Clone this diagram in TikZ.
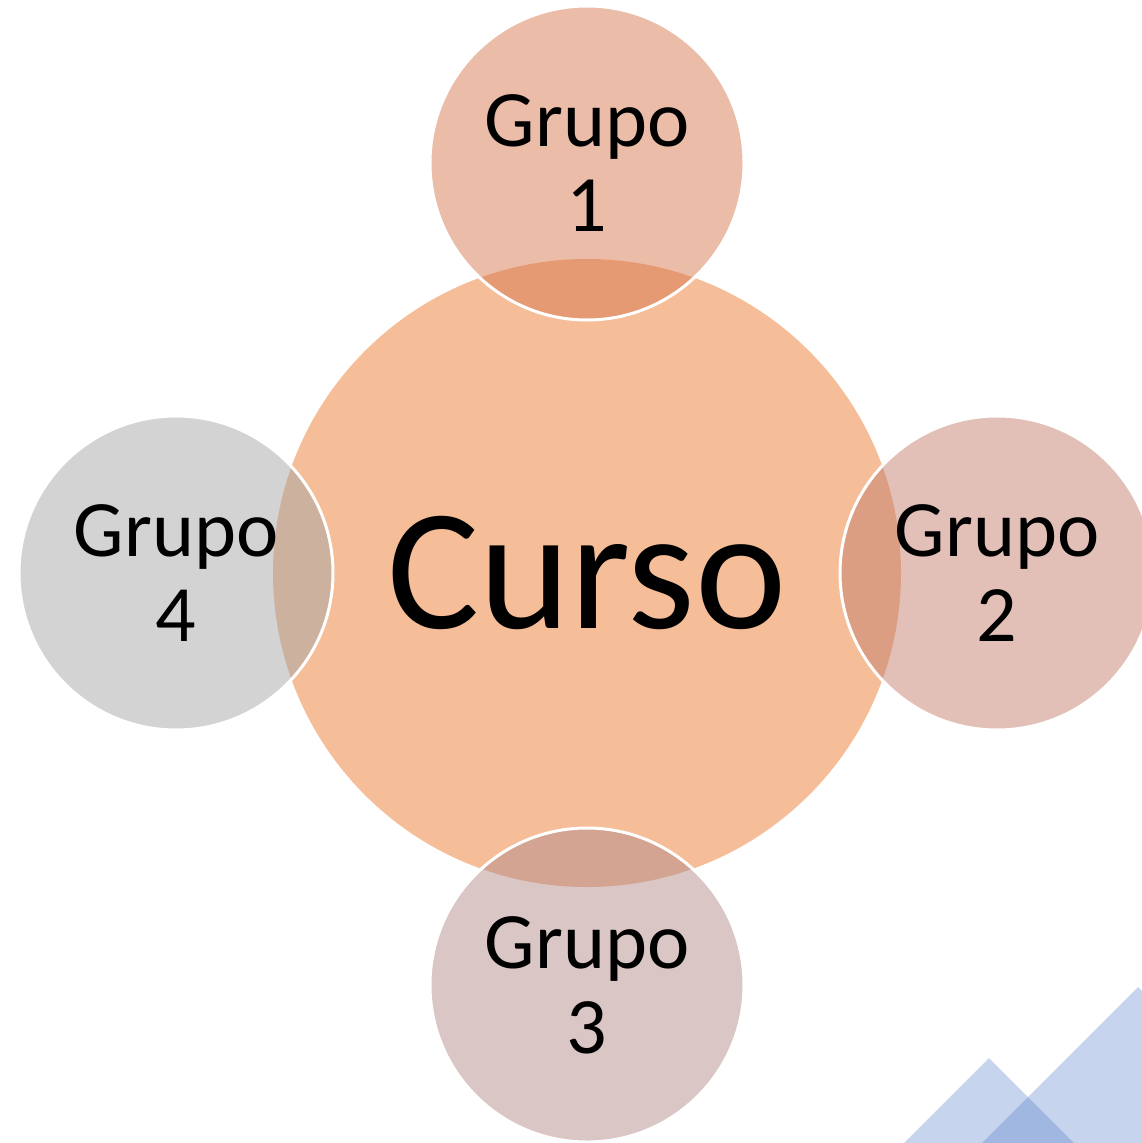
\documentclass[tikz,border=0pt]{standalone}
\usepackage{fontspec}
\setmainfont{Carlito}
\begin{document}
\begin{tikzpicture}[x=1pt,y=-1pt,
  bigc/.style={circle,fill=curso,minimum size=628pt,inner sep=0pt,outer sep=0pt,
    font=\fontsize{173}{173}\selectfont},
  smallc/.style={circle,fill=#1,fill opacity=0.5,text opacity=1,draw=white,draw opacity=1,
    line width=3pt,minimum size=314pt,inner sep=0pt,outer sep=0pt,align=center,
    font=\fontsize{80}{85}\selectfont},
  tri/.style={fill=triblue,fill opacity=0.3,draw=none}]
\definecolor{curso}{RGB}{245,189,152}
\definecolor{g1}{RGB}{215,121,81}
\definecolor{g2}{RGB}{197,129,111}
\definecolor{g3}{RGB}{179,141,139}
\definecolor{g4}{RGB}{167,167,167}
\definecolor{triblue}{RGB}{68,114,196}
\useasboundingbox (0,0) rectangle (1142,1143);
\clip (0,0) rectangle (1142,1143);
\node[bigc] (curso) at (587,573) {\raisebox{2pt}{Curso}};
\node[smallc=g1] (g1) at (587,163) {Grupo\\1};
\node[smallc=g2] (g2) at (997,573) {Grupo\\2};
\node[smallc=g3] (g3) at (587,985) {Grupo\\3};
\node[smallc=g4] (g4) at (176,573) {Grupo\\4};
\fill[tri] (982,1143) -- (1138,987) -- (1294,1143) -- cycle;
\fill[tri] (904,1143) -- (989,1058) -- (1074,1143) -- cycle;
\end{tikzpicture}
\end{document}
